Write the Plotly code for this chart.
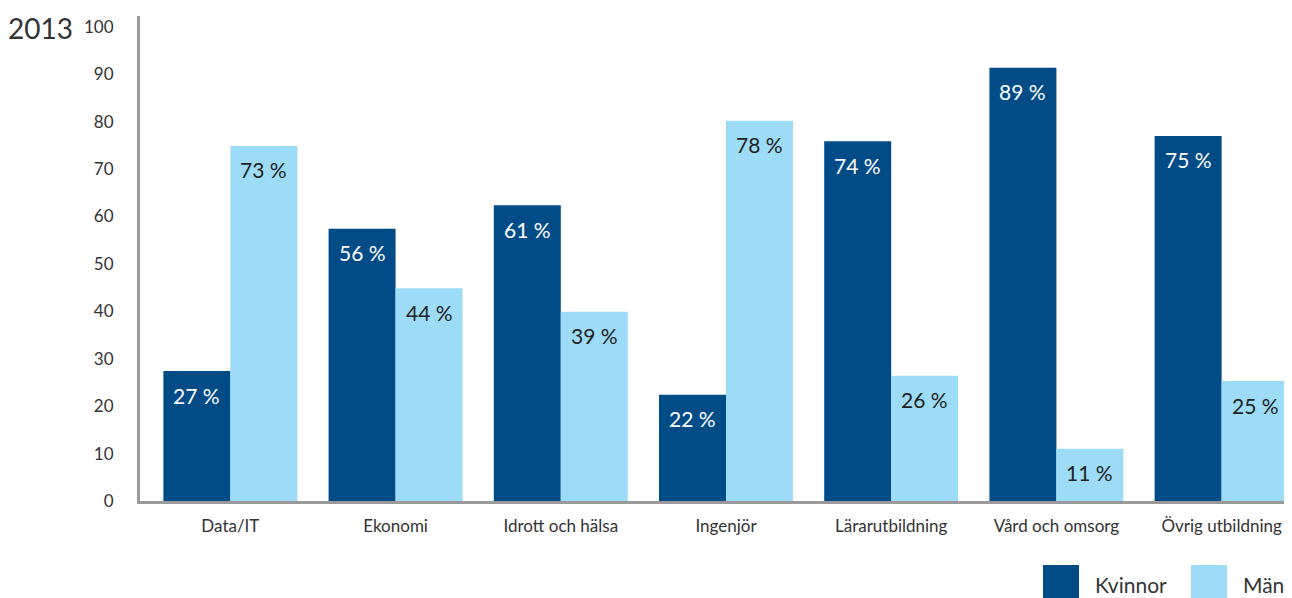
import plotly.graph_objects as go

categories = ["Data/IT", "Ekonomi", "Idrott och hälsa", "Ingenjör", "Lärarutbildning", "Vård och omsorg", "Övrig utbildning"]
kvinnor_bar = [27.4, 57.4, 62.4, 22.4, 75.9, 91.4, 77.0]
man_bar = [74.9, 44.9, 39.9, 80.2, 26.4, 11.0, 25.3]
kvinnor_labels = ["27 %", "56 %", "61 %", "22 %", "74 %", "89 %", "75 %"]
man_labels = ["73 %", "44 %", "39 %", "78 %", "26 %", "11 %", "25 %"]
y_ticks = [0, 10, 20, 30, 40, 50, 60, 70, 80, 90, 100]

DARK = "#014b87"
LIGHT = "#9ddcf7"
FONT = "Lato"

# page has an 8px body margin; figure is sized so the plot lands where the reference has it
PLOT_W = 1152
PLOT_H = 485
PLOT_L = 140  # page px
PLOT_B = 501  # page px

fig = go.Figure()
fig.add_trace(go.Bar(x=categories, y=kvinnor_bar, name="Kvinnor", marker=dict(color=DARK, line=dict(width=0))))
fig.add_trace(go.Bar(x=categories, y=man_bar, name="Män", marker=dict(color=LIGHT, line=dict(width=0))))

annotations = []
for c, v, t in zip(categories, kvinnor_bar, kvinnor_labels):
    annotations.append(dict(x=c, y=v, text=t, showarrow=False, xshift=-33.5, yshift=-24,
                            font=dict(family=FONT, size=21, color="white")))
for c, v, t in zip(categories, man_bar, man_labels):
    annotations.append(dict(x=c, y=v, text=t, showarrow=False, xshift=33.5, yshift=-24,
                            font=dict(family=FONT, size=21, color="#222222")))

annotations.append(dict(xref="paper", yref="paper", x=(40 - PLOT_L) / PLOT_W, y=(PLOT_B - 28) / PLOT_H,
                        xanchor="center", yanchor="middle",
                        text="2013", showarrow=False, font=dict(family=FONT, size=28, color="#333333")))

# custom legend
legend_items = [("Kvinnor", DARK), ("Män", LIGHT)]
shapes = []
leg_x = [1043, 1191]
for (name, col), lx in zip(legend_items, leg_x):
    shapes.append(dict(type="rect", xref="paper", yref="paper",
                       x0=(lx - PLOT_L) / PLOT_W, x1=(lx + 36 - PLOT_L) / PLOT_W,
                       y0=(PLOT_B - 600) / PLOT_H, y1=(PLOT_B - 565) / PLOT_H,
                       fillcolor=col, line=dict(width=0)))
    annotations.append(dict(xref="paper", yref="paper", x=(lx + 50 - PLOT_L) / PLOT_W, y=(PLOT_B - 584) / PLOT_H,
                            xanchor="left", yanchor="middle", text=name, showarrow=False,
                            font=dict(family=FONT, size=21, color="#333333")))

fig.update_layout(
    width=1284, height=590,
    margin=dict(l=132, r=0, t=8, b=97),
    paper_bgcolor="white", plot_bgcolor="white",
    barmode="group", bargap=0.189, bargroupgap=0,
    showlegend=False,
    annotations=annotations, shapes=shapes,
    font=dict(family=FONT, color="#333333"),
)
fig.update_xaxes(range=[-0.547, 6.426], showline=True, linecolor="#9a9a9c", linewidth=3,
                 showgrid=False, ticks="", tickfont=dict(family=FONT, size=17, color="#333333"),
                 ticklabelstandoff=8, fixedrange=True)
fig.update_yaxes(range=[0, 102.3], tickvals=y_ticks, showline=True, linecolor="#9a9a9c", linewidth=3,
                 showgrid=False, zeroline=False, ticks="", tickfont=dict(family=FONT, size=17, color="#333333"),
                 ticklabelstandoff=20, fixedrange=True)

fig.write_html("out.html")
